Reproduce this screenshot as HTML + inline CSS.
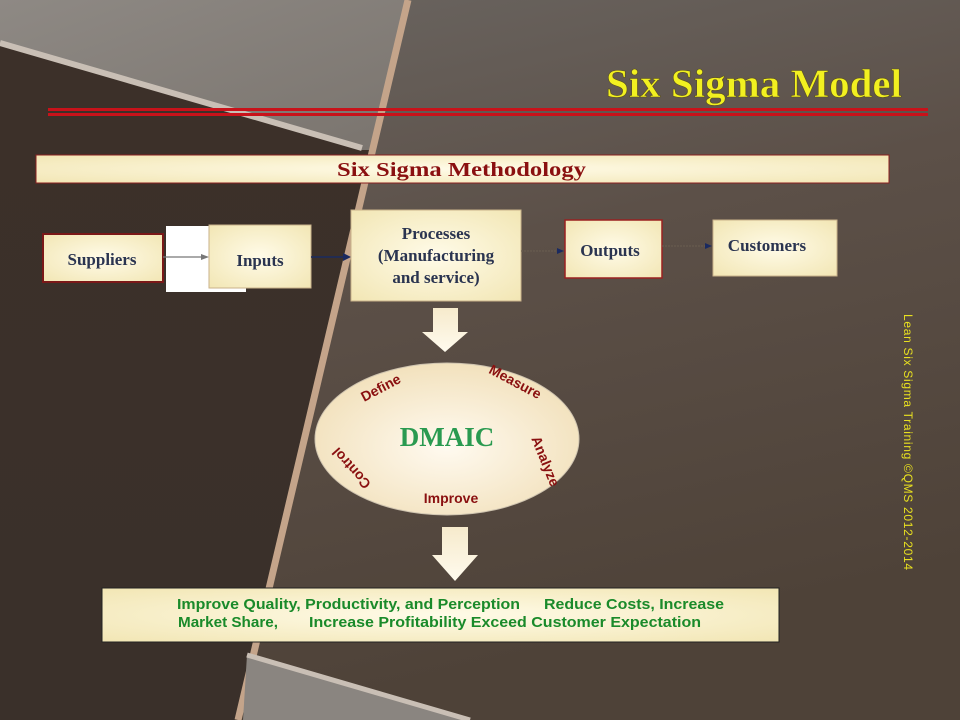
<!DOCTYPE html>
<html><head><meta charset="utf-8"><style>
html,body{margin:0;padding:0;width:960px;height:720px;overflow:hidden;background:#4a4038}
svg{display:block}
.s{font-family:"Liberation Serif",serif}
.a{font-family:"Liberation Sans",sans-serif}
</style></head><body>
<svg width="960" height="720" viewBox="0 0 960 720" xmlns="http://www.w3.org/2000/svg">
<defs>
<linearGradient id="bgR" x1="0" y1="0" x2="0.3" y2="1">
<stop offset="0" stop-color="#6c6864"/><stop offset="0.45" stop-color="#5c5048"/><stop offset="1" stop-color="#4e4238"/></linearGradient>
<linearGradient id="bgL" x1="0" y1="0" x2="0" y2="1">
<stop offset="0" stop-color="#3c3029"/><stop offset="1" stop-color="#3a302a"/></linearGradient>
<linearGradient id="gTL" x1="0" y1="0" x2="1" y2="1">
<stop offset="0" stop-color="#8e8984"/><stop offset="1" stop-color="#7a746e"/></linearGradient>
<radialGradient id="box" cx="0.5" cy="0.5" r="0.7">
<stop offset="0" stop-color="#fffbe8"/><stop offset="1" stop-color="#f2e6b4"/></radialGradient>
<radialGradient id="ell" cx="0.5" cy="0.55" r="0.6">
<stop offset="0" stop-color="#fffaf0"/><stop offset="1" stop-color="#f1dfb8"/></radialGradient>
<linearGradient id="arr" x1="0" y1="0" x2="0" y2="1">
<stop offset="0" stop-color="#f6eacc"/><stop offset="1" stop-color="#fffbee"/></linearGradient>
</defs>
<rect width="960" height="720" fill="url(#bgR)"/>
<polygon points="0,0 408,0 240,720 0,720" fill="url(#bgL)"/>
<polygon points="0,0 408,0 370,150 361,150 0,43" fill="url(#gTL)"/>
<line x1="0" y1="43" x2="362" y2="148" stroke="#c9bfb5" stroke-width="6"/>
<line x1="408" y1="0" x2="238" y2="720" stroke="#c4a48a" stroke-width="7"/>
<polygon points="247,655 470,720 243,720" fill="#8a8580"/>
<line x1="247" y1="655" x2="470" y2="720" stroke="#c9bfb5" stroke-width="5"/>
<text x="606" y="97" class="s" font-size="40" font-weight="bold" fill="#f2f020" textLength="296" lengthAdjust="spacingAndGlyphs" stroke="#5a5020" stroke-width="0.6">Six Sigma Model</text>
<rect x="48" y="108" width="880" height="3" fill="#c8121a"/>
<rect x="48" y="113" width="880" height="3" fill="#c8121a"/>
<rect x="36" y="155" width="853" height="28" fill="url(#box)" stroke="#8a2020" stroke-width="1"/>
<text x="337" y="176" class="s" font-size="20" font-weight="bold" fill="#8a1010" textLength="249" lengthAdjust="spacingAndGlyphs">Six Sigma Methodology</text>
<rect x="166" y="226" width="80" height="66" fill="#fff"/>
<rect x="43" y="234" width="120" height="48" fill="url(#box)" stroke="#7a1818" stroke-width="2"/>
<text x="102" y="265" text-anchor="middle" class="s" font-size="17" fill="#2a3450" font-weight="bold">Suppliers</text>
<line x1="163" y1="257" x2="202" y2="257" stroke="#777" stroke-width="1.2"/>
<polygon points="209,257 201,254 201,260" fill="#777"/>
<rect x="209" y="225" width="102" height="63" fill="url(#box)" stroke="#c9b28a" stroke-width="1"/>
<text x="260" y="266" text-anchor="middle" class="s" font-size="17" fill="#2a3450" font-weight="bold">Inputs</text>
<line x1="311" y1="257" x2="344" y2="257" stroke="#1a2a60" stroke-width="1.5"/>
<polygon points="351,257 343,253 343,261" fill="#1a2a60"/>
<rect x="351" y="210" width="170" height="91" fill="url(#box)" stroke="#c9b28a" stroke-width="1"/>
<g class="s" font-size="17" fill="#2a3450" font-weight="bold" text-anchor="middle">
<text x="436" y="239">Processes</text><text x="436" y="261">(Manufacturing</text><text x="436" y="283">and service)</text></g>
<line x1="521" y1="251" x2="557" y2="251" stroke="#6a5e50" stroke-width="1" stroke-dasharray="2,1"/>
<polygon points="564,251 557,248 557,254" fill="#1a2a60"/>
<rect x="565" y="220" width="97" height="58" fill="url(#box)" stroke="#9a2020" stroke-width="1.5"/>
<text x="610" y="256" text-anchor="middle" class="s" font-size="17" fill="#2a3450" font-weight="bold">Outputs</text>
<line x1="662" y1="246" x2="705" y2="246" stroke="#6a5e50" stroke-width="1" stroke-dasharray="2,1"/>
<polygon points="712,246 705,243 705,249" fill="#1a2a60"/>
<rect x="713" y="220" width="124" height="56" fill="url(#box)" stroke="#c9b28a" stroke-width="1"/>
<text x="767" y="251" text-anchor="middle" class="s" font-size="17" fill="#2a3450" font-weight="bold">Customers</text>
<polygon points="433,308 458,308 458,332 468,332 445,352 422,332 433,332" fill="url(#arr)"/>
<ellipse cx="447" cy="439" rx="132" ry="76" fill="url(#ell)" stroke="#cfc4b0" stroke-width="1"/>
<text x="447" y="446" text-anchor="middle" class="s" font-size="27" font-weight="bold" fill="#2a9a50">DMAIC</text>
<g class="a" font-size="14" font-weight="bold" fill="#8a1010">
<text transform="translate(383,392) rotate(-28)" text-anchor="middle">Define</text>
<text transform="translate(513,386) rotate(28)" text-anchor="middle">Measure</text>
<text transform="translate(541,463) rotate(68)" text-anchor="middle">Analyze</text>
<text x="451" y="503" text-anchor="middle">Improve</text>
<text transform="translate(355,465) rotate(-132)" text-anchor="middle">Control</text>
</g>
<polygon points="442,527 468,527 468,555 478,555 455,581 432,555 442,555" fill="url(#arr)"/>
<rect x="102" y="588" width="677" height="54" fill="url(#box)" stroke="#222" stroke-width="1"/>
<g class="a" font-size="15" font-weight="bold" fill="#1a8a2a" lengthAdjust="spacingAndGlyphs">
<text x="177" y="609" textLength="343" lengthAdjust="spacingAndGlyphs">Improve Quality, Productivity, and Perception</text>
<text x="544" y="609" textLength="180" lengthAdjust="spacingAndGlyphs">Reduce Costs, Increase</text>
<text x="178" y="627" textLength="100" lengthAdjust="spacingAndGlyphs">Market Share,</text>
<text x="309" y="627" textLength="392" lengthAdjust="spacingAndGlyphs">Increase Profitability Exceed Customer Expectation</text>
</g>
<text transform="translate(904,314) rotate(90)" class="a" font-size="12" fill="#e8e020" textLength="256" lengthAdjust="spacing">Lean  Six Sigma Training   ©QMS 2012-2014</text>
</svg>
</body></html>
